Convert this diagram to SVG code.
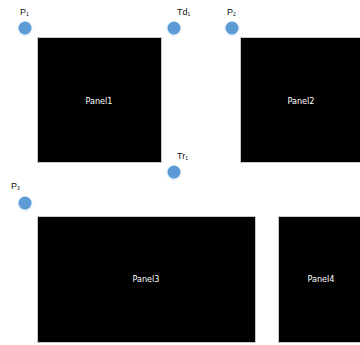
<svg xmlns="http://www.w3.org/2000/svg" width="360" height="345" viewBox="0 0 360 345">
<style>
.panel{fill:#000;stroke:#c8c8c8;stroke-width:1}
.pl{fill:#fff;font-family:"DejaVu Sans Condensed","DejaVu Sans",sans-serif;font-size:9px;text-anchor:middle}
.pt{fill:#111;font-family:"Liberation Sans",sans-serif;font-size:9px}
.sub{font-size:5px}
.pt-dot{fill:#5b9bd5;filter:url(#glow)}
</style>
<defs>
<filter id="glow" x="-50%" y="-50%" width="200%" height="200%">
<feGaussianBlur in="SourceAlpha" stdDeviation="1.2" result="b"/>
<feOffset dx="0" dy="1" result="o"/>
<feFlood flood-color="#9ec3e8" flood-opacity="0.6"/>
<feComposite in2="o" operator="in" result="s"/>
<feMerge><feMergeNode in="s"/><feMergeNode in="SourceGraphic"/></feMerge>
</filter>
</defs>
<rect width="360" height="345" fill="#fff"/>
<g id="panel1"><rect class="panel" x="37.5" y="37.5" width="124" height="125"/><text class="pl" x="99" y="104">Panel1</text></g>
<g id="panel2"><rect class="panel" x="240.5" y="37.5" width="122" height="125"/><text class="pl" x="301" y="104">Panel2</text></g>
<g id="panel3"><rect class="panel" x="37.5" y="216.5" width="218" height="126"/><text class="pl" x="146" y="282">Panel3</text></g>
<g id="panel4"><rect class="panel" x="278.5" y="216.5" width="84" height="126"/><text class="pl" x="321" y="282">Panel4</text></g>
<g id="p1"><circle class="pt-dot" cx="25" cy="28" r="6.5"/><text class="pt" x="20" y="15">P<tspan class="sub" dy="1">1</tspan></text></g>
<g id="td1"><circle class="pt-dot" cx="174" cy="28" r="6.5"/><text class="pt" x="177" y="15">Td<tspan class="sub" dy="1">1</tspan></text></g>
<g id="p2"><circle class="pt-dot" cx="232" cy="28" r="6.5"/><text class="pt" x="227" y="15">P<tspan class="sub" dy="1">2</tspan></text></g>
<g id="tr1"><circle class="pt-dot" cx="174" cy="172" r="6.5"/><text class="pt" x="177" y="159">Tr<tspan class="sub" dy="1">1</tspan></text></g>
<g id="p3"><circle class="pt-dot" cx="25" cy="203" r="6.5"/><text class="pt" x="11" y="189">P<tspan class="sub" dy="1">3</tspan></text></g>
<g id="connectors"/>
</svg>
